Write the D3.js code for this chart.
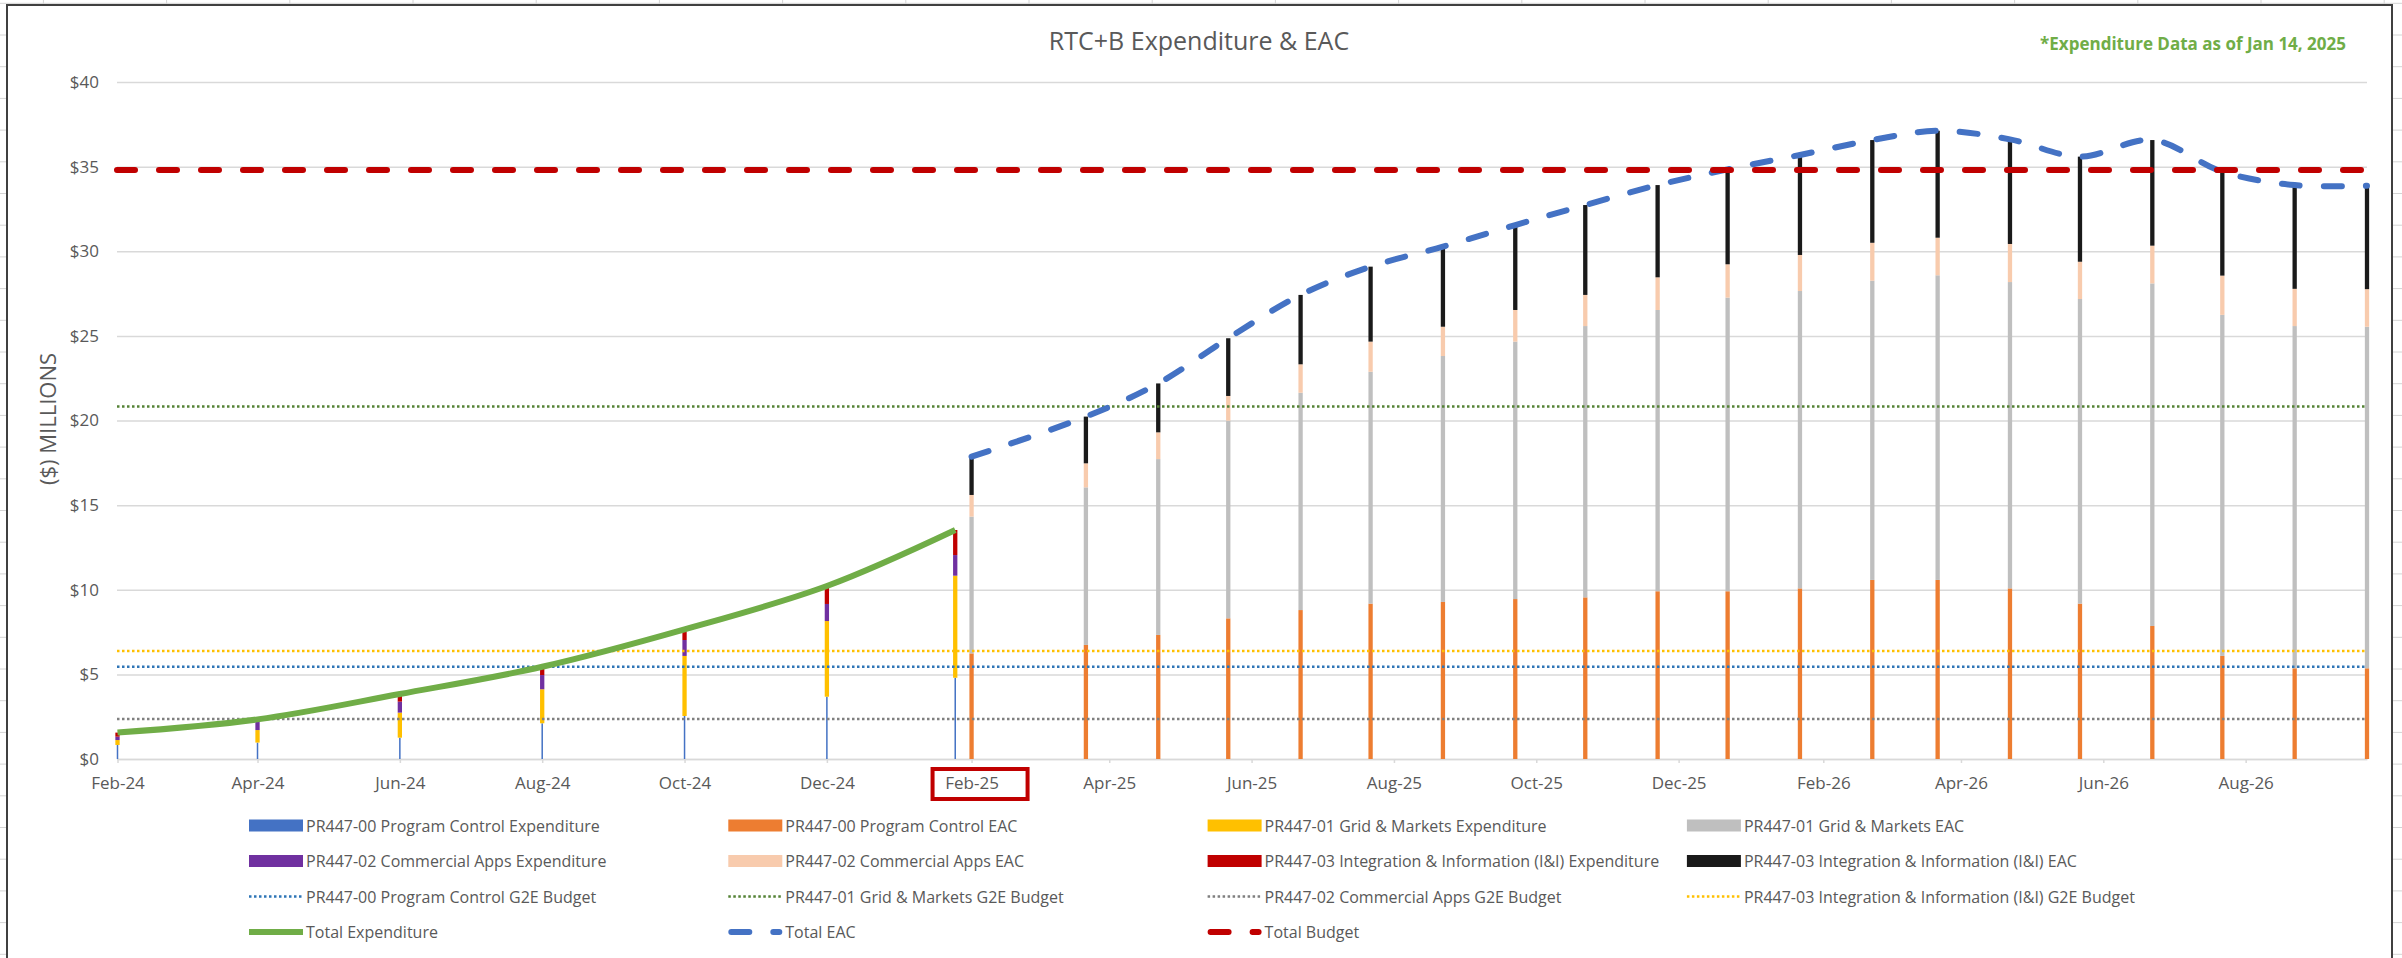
<!DOCTYPE html>
<html>
<head>
<meta charset="utf-8">
<script src="https://cdn.jsdelivr.net/npm/d3@7"></script>
<style>
  body { margin: 0; background: #fff; }
  svg { display: block; font-family: "Open Sans", sans-serif; }
</style>
</head>
<body>
<svg id="chart" width="2402" height="958"></svg>
<script>
// ---- data ($ millions) ----
// actual expenditure, cumulative, stacked by project
const expDates = ["2024-02-01", "2024-04-01", "2024-06-01", "2024-08-01", "2024-10-01", "2024-12-01", "2025-01-25"];
const expProgramControl = [0.83, 0.97, 1.26, 2.11, 2.54, 3.68, 4.80];
const expGridMarkets = [0.29, 0.74, 1.48, 2.01, 3.55, 4.47, 6.03];
const expCommercialApps = [0.20, 0.49, 0.65, 0.84, 0.94, 1.01, 1.22];
const expIntegration = [0.24, 0.14, 0.45, 0.49, 0.63, 1.06, 1.48];

// estimate at completion, stacked by project
const eacDates = ["2025-02-01", "2025-03-22", "2025-04-22", "2025-05-22", "2025-06-22", "2025-07-22", "2025-08-22",
  "2025-09-22", "2025-10-22", "2025-11-22", "2025-12-22", "2026-01-22", "2026-02-22", "2026-03-22", "2026-04-22",
  "2026-05-22", "2026-06-22", "2026-07-22", "2026-08-22", "2026-09-22"];
const eacProgramControl = [6.24, 6.74, 7.33, 8.31, 8.80, 9.18, 9.28, 9.45, 9.55, 9.91, 9.91, 10.08, 10.58, 10.58, 10.08, 9.18, 7.86, 6.09, 5.36, 5.36];
const eacGridMarkets = [8.08, 9.31, 10.39, 11.68, 12.84, 13.70, 14.53, 15.21, 16.03, 16.62, 17.35, 17.57, 17.68, 18.00, 18.10, 18.00, 20.24, 20.15, 20.22, 20.18];
const eacCommercialApps = [1.28, 1.42, 1.58, 1.46, 1.68, 1.78, 1.73, 1.87, 1.84, 1.93, 1.97, 2.13, 2.24, 2.22, 2.25, 2.20, 2.23, 2.32, 2.20, 2.22];
const eacIntegration = [2.26, 2.76, 2.89, 3.41, 4.10, 4.43, 4.73, 5.02, 5.31, 5.45, 5.61, 5.91, 6.07, 6.32, 6.18, 6.21, 6.24, 6.14, 6.13, 6.11];

// G2E budgets
const budgetProgramControl = 5.45;
const budgetGridMarkets = 20.82;
const budgetCommercialApps = 2.36;
const budgetIntegration = 6.38;
const totalBudget = 34.8;

const yTicks = [0, 5, 10, 15, 20, 25, 30, 35, 40];
const xTicks = ["2024-02-01", "2024-04-01", "2024-06-01", "2024-08-01", "2024-10-01", "2024-12-01", "2025-02-01",
  "2025-04-01", "2025-06-01", "2025-08-01", "2025-10-01", "2025-12-01", "2026-02-01", "2026-04-01", "2026-06-01", "2026-08-01"];
const axisStart = "2024-02-01", axisEnd = "2026-09-22";

const legendItems = [
  { label: "PR447-00 Program Control Expenditure", type: "bar", color: "#4472C4" },
  { label: "PR447-00 Program Control EAC", type: "bar", color: "#ED7D31" },
  { label: "PR447-01 Grid & Markets Expenditure", type: "bar", color: "#FFC000" },
  { label: "PR447-01 Grid & Markets EAC", type: "bar", color: "#BFBFBF" },
  { label: "PR447-02 Commercial Apps Expenditure", type: "bar", color: "#7030A0" },
  { label: "PR447-02 Commercial Apps EAC", type: "bar", color: "#F8CBAD" },
  { label: "PR447-03 Integration & Information (I&I) Expenditure", type: "bar", color: "#C00000" },
  { label: "PR447-03 Integration & Information (I&I) EAC", type: "bar", color: "#1A1A1A" },
  { label: "PR447-00 Program Control G2E Budget", type: "dot", color: "#2E75B6" },
  { label: "PR447-01 Grid & Markets G2E Budget", type: "dot", color: "#548235" },
  { label: "PR447-02 Commercial Apps G2E Budget", type: "dot", color: "#7F7F7F" },
  { label: "PR447-03 Integration & Information (I&I) G2E Budget", type: "dot", color: "#FFC000" },
  { label: "Total Expenditure", type: "solid", color: "#70AD47" },
  { label: "Total EAC", type: "dash", color: "#4472C4" },
  { label: "Total Budget", type: "dash", color: "#C00000" }
];

// ---- layout ----
const parse = d3.timeParse("%Y-%m-%d");
const svg = d3.select("#chart");
const plotLeft = 117, plotRight = 2367;

const x = d3.scaleTime()
  .domain([parse(axisStart), parse(axisEnd)])
  .range([117.5, 2367]);
const y = d3.scaleLinear()
  .domain([0, 40])
  .range([759, 82]);

// spreadsheet cells peeking out round the chart object
svg.append("g").selectAll("line.row")
  .data(d3.range(3.3, 958, 31.7))
  .join("line")
  .attr("x1", 0).attr("x2", 2402)
  .attr("y1", d => d).attr("y2", d => d)
  .attr("stroke", "#D4D4D4").attr("stroke-width", 1);
svg.append("g").selectAll("line.col")
  .data(d3.range(43.4, 2402, 123.2))
  .join("line")
  .attr("x1", d => d).attr("x2", d => d)
  .attr("y1", 0).attr("y2", 958)
  .attr("stroke", "#D4D4D4").attr("stroke-width", 1);

// chart area
svg.append("rect")
  .attr("x", 7).attr("y", 5)
  .attr("width", 2385).attr("height", 970)
  .attr("fill", "#fff")
  .attr("stroke", "#404040")
  .attr("stroke-width", 2);

// title + note
svg.append("text")
  .attr("x", 1199).attr("y", 50)
  .attr("text-anchor", "middle")
  .style("font-size", "25px")
  .style("fill", "#595959")
  .text("RTC+B Expenditure & EAC");

svg.append("text")
  .attr("x", 2346).attr("y", 50)
  .attr("text-anchor", "end")
  .style("font-size", "17px")
  .style("font-weight", "bold")
  .style("fill", "#70AD47")
  .text("*Expenditure Data as of Jan 14, 2025");

// Y axis + gridlines
const yAxis = d3.axisLeft(y)
  .tickValues(yTicks)
  .tickSize(-(plotRight - plotLeft))
  .tickPadding(18)
  .tickFormat(d => "$" + d);
const gy = svg.append("g")
  .attr("transform", "translate(" + plotLeft + ",0)")
  .call(yAxis);
gy.select(".domain").remove();
gy.selectAll(".tick line").attr("stroke", "#D9D9D9").attr("stroke-width", 1.5);
gy.selectAll(".tick text")
  .style("font-family", "Open Sans")
  .style("font-size", "17px")
  .style("fill", "#595959");

// Y axis title
svg.append("text")
  .attr("transform", "translate(56,419) rotate(-90)")
  .attr("text-anchor", "middle")
  .style("font-size", "22px")
  .style("fill", "#595959")
  .text("($) MILLIONS");

// X axis
const xAxis = d3.axisBottom(x)
  .tickValues(xTicks.map(parse))
  .tickFormat(d3.timeFormat("%b-%y"))
  .tickSize(4)
  .tickSizeOuter(0)
  .tickPadding(14);
const gx = svg.append("g")
  .attr("transform", "translate(0," + y(0) + ")")
  .call(xAxis);
gx.select(".domain").attr("stroke", "#D9D9D9").attr("stroke-width", 1.5);
gx.selectAll(".tick line").attr("stroke", "#D9D9D9").attr("stroke-width", 1.5);
gx.selectAll(".tick text")
  .style("font-family", "Open Sans")
  .style("font-size", "17px")
  .style("fill", "#595959");

// highlight box round Feb-25
const febX = x(parse("2025-02-01"));
svg.append("rect")
  .attr("x", febX - 39).attr("y", 769)
  .attr("width", 95).attr("height", 30)
  .attr("fill", "none")
  .attr("stroke", "#C00000")
  .attr("stroke-width", 4);

// ---- stacked bars ----
const expTable = expDates.map((d, i) => ({
  date: parse(d),
  pc: expProgramControl[i], gm: expGridMarkets[i], ca: expCommercialApps[i], ii: expIntegration[i]
}));
const eacTable = eacDates.map((d, i) => ({
  date: parse(d),
  pc: eacProgramControl[i], gm: eacGridMarkets[i], ca: eacCommercialApps[i], ii: eacIntegration[i]
}));
const keys = ["pc", "gm", "ca", "ii"];

function drawStack(table, colors, widths, cls) {
  const layers = d3.stack().keys(keys)(table);
  layers.forEach((layer, li) => {
    svg.append("g").selectAll("rect." + cls + li)
      .data(layer)
      .join("rect")
      .attr("class", cls + li)
      .attr("x", d => x(d.data.date) - widths[li] / 2)
      .attr("width", widths[li])
      .attr("y", d => y(d[1]))
      .attr("height", d => y(d[0]) - y(d[1]))
      .attr("fill", colors[li]);
  });
}
drawStack(expTable, ["#4472C4", "#FFC000", "#7030A0", "#C00000"], [1.5, 4.3, 4.3, 4.3], "exp");
drawStack(eacTable, ["#ED7D31", "#BFBFBF", "#F8CBAD", "#1A1A1A"], [4.3, 4.3, 4.3, 4.3], "eac");

// ---- budget lines ----
function hline(v, color, width, dash, cap) {
  svg.append("line")
    .attr("x1", plotLeft).attr("x2", plotRight)
    .attr("y1", y(v)).attr("y2", y(v))
    .attr("stroke", color)
    .attr("stroke-width", width)
    .attr("stroke-dasharray", dash)
    .attr("stroke-linecap", cap || "butt");
}
hline(budgetGridMarkets, "#548235", 2.5, "2.5,2.5");
hline(budgetIntegration, "#FFC000", 2.5, "2.5,2.5");
hline(budgetProgramControl, "#2E75B6", 2.5, "2.5,2.5");
hline(budgetCommercialApps, "#7F7F7F", 2.5, "2.5,2.5");

// ---- total lines ----
const lineGen = d3.line()
  .x(d => x(d.date))
  .y(d => y(d.pc + d.gm + d.ca + d.ii))
  .curve(d3.curveCatmullRom);

svg.append("path")
  .datum(expTable)
  .attr("d", lineGen)
  .attr("fill", "none")
  .attr("stroke", "#70AD47")
  .attr("stroke-width", 6)
  .attr("stroke-linejoin", "round");

svg.append("path")
  .datum(eacTable)
  .attr("d", lineGen)
  .attr("fill", "none")
  .attr("stroke", "#4472C4")
  .attr("stroke-width", 6)
  .attr("stroke-dasharray", "18,24")
  .attr("stroke-linecap", "round");

hline(totalBudget, "#C00000", 6, "18,24", "round");

// ---- legend ----
const legend = svg.append("g");
const legItem = legend.selectAll("g")
  .data(legendItems)
  .join("g")
  .attr("transform", (d, i) => "translate(" + (249 + (i % 4) * 479.3) + "," + (825.5 + Math.floor(i / 4) * 35.5) + ")");

legItem.filter(d => d.type === "bar")
  .append("rect")
  .attr("x", 0).attr("y", -6)
  .attr("width", 54).attr("height", 12)
  .attr("fill", d => d.color);

legItem.filter(d => d.type !== "bar")
  .append("line")
  .attr("x1", d => d.type === "dash" ? 3 : 0)
  .attr("x2", d => d.type === "dash" ? 51 : 54)
  .attr("y1", 0).attr("y2", 0)
  .attr("stroke", d => d.color)
  .attr("stroke-width", d => d.type === "dot" ? 2.5 : 6)
  .attr("stroke-dasharray", d => d.type === "dot" ? "2.5,2.5" : d.type === "dash" ? "18,24" : null)
  .attr("stroke-linecap", d => d.type === "dash" ? "round" : "butt");

legItem.append("text")
  .attr("x", 57).attr("y", 6)
  .style("font-size", "16px")
  .style("fill", "#595959")
  .text(d => d.label);
</script>
</body>
</html>
